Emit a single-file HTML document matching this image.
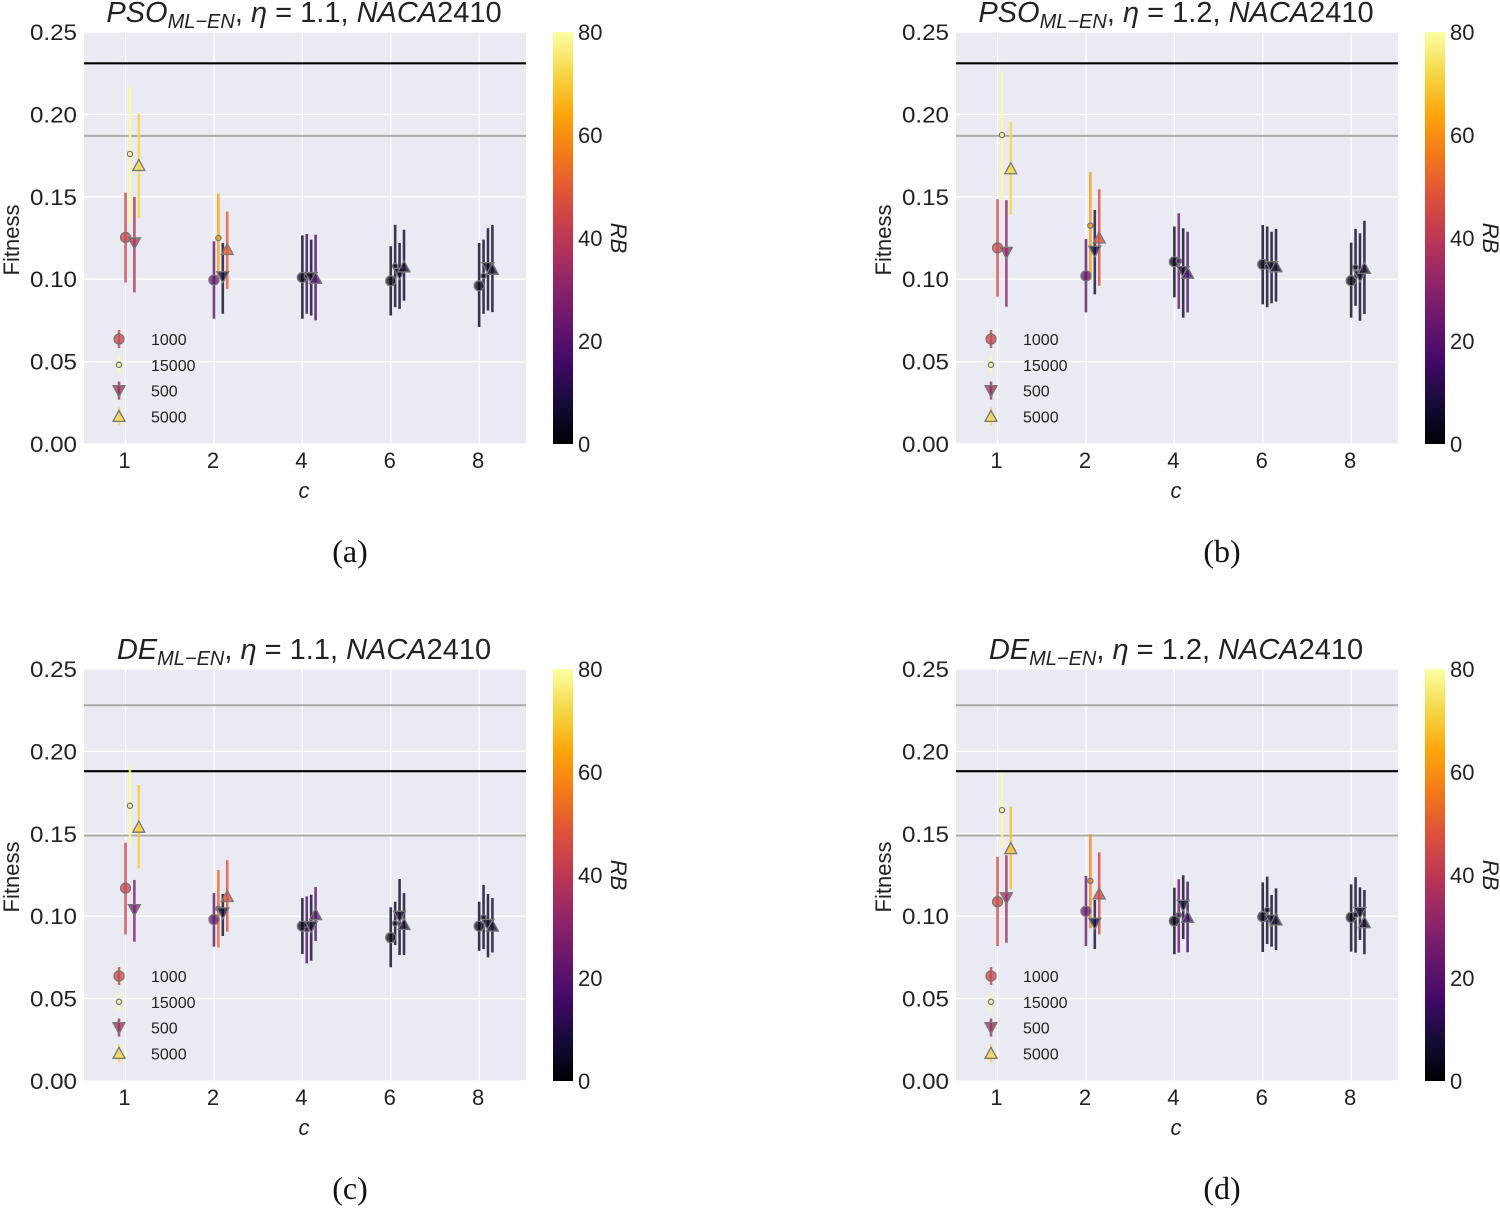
<!DOCTYPE html>
<html><head><meta charset="utf-8">
<style>
html,body{margin:0;padding:0;background:#fff;}
svg{display:block;font-family:"Liberation Sans",sans-serif;}
</style></head>
<body>
<svg id="fig" width="1500" height="1208" viewBox="0 0 1500 1208" xmlns="http://www.w3.org/2000/svg">
<defs>
<linearGradient id="inferno" x1="0" y1="1" x2="0" y2="0">
<stop offset="0" stop-color="#000004"/><stop offset="0.1" stop-color="#160b39"/>
<stop offset="0.2" stop-color="#420a68"/><stop offset="0.3" stop-color="#6a176e"/>
<stop offset="0.4" stop-color="#932667"/><stop offset="0.5" stop-color="#bc3754"/>
<stop offset="0.6" stop-color="#dd513a"/><stop offset="0.7" stop-color="#f37819"/>
<stop offset="0.8" stop-color="#fca50a"/><stop offset="0.9" stop-color="#f6d746"/>
<stop offset="1" stop-color="#fcffa4"/>
</linearGradient>
</defs>
</svg>
<script>
// ---- data ----
const categories = ["1","2","4","6","8"];
const seriesNames = ["1000","15000","500","5000"];
const yTicks = [0,0.05,0.10,0.15,0.20,0.25];
const yTickLabels = ["0.00","0.05","0.10","0.15","0.20","0.25"];
const cbTicks = [0,20,40,60,80];
const panelTitles = [["PSO","1.1"],["PSO","1.2"],["DE","1.1"],["DE","1.2"]];
const panelCaptions = ["(a)","(b)","(c)","(d)"];
// horizontal reference lines per panel: [value, color]
const refLinesA = [[0.231,"#000"],[0.187,"#aaa"]];
const refLinesB = [[0.231,"#000"],[0.187,"#aaa"]];
const refLinesC = [[0.228,"#aaa"],[0.188,"#000"],[0.149,"#aaa"]];
const refLinesD = [[0.228,"#aaa"],[0.188,"#000"],[0.149,"#aaa"]];
// Panel (a): per series [c=1,2,4,6,8]
const aMean = [[0.1254,0.0995,0.101,0.099,0.096],[0.176,0.125,0.102,0.108,0.102],[0.122,0.1015,0.101,0.1035,0.107],[0.169,0.118,0.1005,0.1075,0.106]];
const aLow  = [[0.098,0.076,0.076,0.078,0.071],[0.134,0.101,0.079,0.083,0.079],[0.092,0.079,0.078,0.082,0.081],[0.137,0.094,0.075,0.087,0.080]];
const aHigh = [[0.1525,0.123,0.1266,0.120,0.122],[0.217,0.152,0.1274,0.133,0.124],[0.150,0.122,0.124,0.122,0.131],[0.2007,0.141,0.127,0.130,0.133]];
const aRB   = [[44,22,3,3,3],[79,63,14,6,6],[38,7,5,5,5],[72,50,17,6,6]];
// Panel (b)
const bMean = [[0.119,0.102,0.1106,0.109,0.0991],[0.1875,0.1325,0.111,0.1076,0.1072],[0.1163,0.117,0.1046,0.1076,0.102],[0.167,0.125,0.1036,0.1076,0.1066]];
const bLow  = [[0.0894,0.0799,0.089,0.0847,0.0767],[0.149,0.0995,0.082,0.083,0.0839],[0.0833,0.0908,0.0767,0.0854,0.0748],[0.139,0.096,0.0799,0.0864,0.0789]];
const bHigh = [[0.1485,0.1244,0.132,0.1329,0.1222],[0.226,0.165,0.14,0.132,0.1305],[0.148,0.142,0.1309,0.1288,0.1278],[0.1956,0.1545,0.1288,0.1305,0.1355]];
const bRB   = [[45,22,3,3,3],[79,62,24,6,6],[32,8,5,5,5],[72,47,17,6,6]];
// Panel (c)
const cMean = [[0.117,0.098,0.094,0.087,0.094],[0.167,0.1046,0.092,0.0957,0.0993],[0.104,0.102,0.0937,0.100,0.095],[0.154,0.112,0.101,0.095,0.094]];
const cLow  = [[0.089,0.0815,0.077,0.069,0.079],[0.143,0.081,0.0714,0.0825,0.080],[0.0845,0.088,0.073,0.0765,0.075],[0.129,0.0906,0.085,0.0765,0.078]];
const cHigh = [[0.1446,0.114,0.111,0.1054,0.1088],[0.191,0.128,0.112,0.1088,0.119],[0.122,0.1135,0.113,0.1226,0.1135],[0.1796,0.134,0.1177,0.114,0.111]];
const cRB   = [[44,22,3,3,3],[79,52,18,6,6],[28,7,5,5,5],[70,48,20,6,6]];
// Panel (d)
const dMean = [[0.1088,0.103,0.0971,0.0997,0.0993],[0.1644,0.1214,0.1007,0.1038,0.1009],[0.1112,0.0957,0.1066,0.0977,0.1023],[0.141,0.1135,0.0993,0.0977,0.0961]];
const dLow  = [[0.0819,0.0819,0.0769,0.0783,0.0785],[0.1418,0.0926,0.0779,0.0831,0.0779],[0.0839,0.0801,0.0862,0.0815,0.0856],[0.1163,0.089,0.0781,0.0795,0.0769]];
const dHigh = [[0.136,0.1244,0.1173,0.1205,0.1193],[0.187,0.1497,0.1224,0.124,0.1236],[0.137,0.1098,0.1248,0.1129,0.1175],[0.1665,0.1388,0.121,0.1169,0.1159]];
const dRB   = [[45,24,3,3,3],[79,58,22,6,6],[35,8,5,5,5],[68,45,15,6,6]];

const panels = [
 {ox:0,oy:0,mean:aMean,low:aLow,high:aHigh,rb:aRB,lines:refLinesA},
 {ox:872,oy:0,mean:bMean,low:bLow,high:bHigh,rb:bRB,lines:refLinesB},
 {ox:0,oy:637,mean:cMean,low:cLow,high:cHigh,rb:cRB,lines:refLinesC},
 {ox:872,oy:637,mean:dMean,low:dLow,high:dHigh,rb:dRB,lines:refLinesD}
];

const NS="http://www.w3.org/2000/svg";
const svg=document.getElementById('fig');
function mk(tag,attrs,parent){const e=document.createElementNS(NS,tag);for(const k in attrs)e.setAttribute(k,attrs[k]);(parent||svg).appendChild(e);return e;}

const stops=[[0,0,0,4],[0.1,22,11,57],[0.2,66,10,104],[0.3,106,23,110],[0.4,147,38,103],[0.5,188,55,84],[0.6,221,81,58],[0.7,243,120,25],[0.8,252,165,10],[0.9,246,215,70],[1,252,255,164]];
function inferno(t){t=Math.max(0,Math.min(1,t));for(let i=1;i<stops.length;i++){if(t<=stops[i][0]){const a=stops[i-1],b=stops[i];const f=(t-a[0])/(b[0]-a[0]);return `rgb(${Math.round(a[1]+f*(b[1]-a[1]))},${Math.round(a[2]+f*(b[2]-a[2]))},${Math.round(a[3]+f*(b[3]-a[3]))})`;}}return "rgb(252,255,164)";}

const AX_L=84,AX_R=526,AX_T=32,AX_B=444;
function xScale(i,j){return AX_L+(i+0.47+j*0.05)*(AX_R-AX_L)/5;}
function yScale(v){return AX_B-(v/0.25)*(AX_B-AX_T);}

function marker(g,j,x,y,col){
  const common={fill:col,'fill-opacity':0.75,stroke:'#777','stroke-width':1.3};
  let m;
  if(j===0){m=mk('circle',Object.assign({cx:x,cy:y,r:5},common),g);}
  else if(j===1){m=mk('circle',Object.assign({cx:x,cy:y,r:2.6},common),g);}
  else if(j===2){m=mk('polygon',Object.assign({points:`${x-6},${y-5} ${x+6},${y-5} ${x},${y+6}`},common),g);}
  else {m=mk('polygon',Object.assign({points:`${x-6},${y+5} ${x+6},${y+5} ${x},${y-6}`},common),g);}
  return m;
}

panels.forEach((p,pi)=>{
  const g=mk('g',{transform:`translate(${p.ox},${p.oy})`});
  
  
  const bg=mk('rect',{x:AX_L,y:AX_T,width:AX_R-AX_L,height:AX_B-AX_T,fill:'#eaeaf2'},g);
  
  
  yTicks.forEach((t,k)=>{
    const gl=mk('line',{x1:AX_L,x2:AX_R,y1:yScale(t),y2:yScale(t),stroke:'#fff','stroke-width':1.3},g);
    
    
    const tl=mk('text',{x:AX_L-7,y:yScale(t)+8,'text-anchor':'end','font-size':22,fill:'#222',textLength:47,lengthAdjust:'spacingAndGlyphs'},g);
    tl.textContent=yTickLabels[k];
    
    
  });
  categories.forEach((c,i)=>{
    const x=xScale(i,0);
    const gl=mk('line',{x1:x,x2:x,y1:AX_T,y2:AX_B,stroke:'#fff','stroke-width':1.3},g);
    
    
    const tl=mk('text',{x:x-1,y:AX_B+24,'text-anchor':'middle','font-size':22,fill:'#222'},g);
    tl.textContent=c;
    
    
  });
  p.lines.forEach(l=>{
    const rl=mk('line',{x1:AX_L,x2:AX_R,y1:yScale(l[0]),y2:yScale(l[0]),stroke:l[1],'stroke-width':l[1]==='#000'?2.2:2},g);
    
    
  });
  for(let j=0;j<4;j++){
    for(let i=0;i<5;i++){
      const x=xScale(i,j);
      const col=inferno(p.rb[j][i]/80);
      const eb=mk('line',{x1:x,x2:x,y1:yScale(p.low[j][i]),y2:yScale(p.high[j][i]),stroke:col,'stroke-width':2.6,'stroke-opacity':0.8},g);
      
      
    }
  }
  for(let j=0;j<4;j++){
    for(let i=0;i<5;i++){
      const col=inferno(p.rb[j][i]/80);
      const m=marker(g,j,xScale(i,j),yScale(p.mean[j][i]),col);
      
      
    }
  }
  const legCols=[inferno(44/80),inferno(79/80),inferno(35/80),inferno(72/80)];
  seriesNames.forEach((s,j)=>{
    const y=339+j*25.8;
    const lg=mk('g',{},g);
    
    
    mk('line',{x1:119,x2:119,y1:y-9,y2:y+9,stroke:legCols[j],'stroke-width':2.6,'stroke-opacity':0.8},lg);
    marker(lg,j,119,y,legCols[j]);
    const t=mk('text',{x:151,y:y+6,'font-size':16,fill:'#222'},lg);
    t.textContent=s;
  });
  const yl=mk('text',{x:0,y:0,transform:'translate(19,240) rotate(-90)','text-anchor':'middle','font-size':22,fill:'#222'},g);
  yl.textContent='Fitness';
  
  
  const xl=mk('text',{x:304,y:498,'text-anchor':'middle','font-size':22,'font-style':'italic',fill:'#222'},g);
  xl.textContent='c';
  
  
  const tt=mk('text',{x:304,y:22,'text-anchor':'middle','font-size':29,fill:'#222'},g);
  
  
  const pt=panelTitles[pi];
  tt.innerHTML=`<tspan font-style="italic">${pt[0]}</tspan><tspan font-style="italic" font-size="20" dy="6">ML−EN</tspan><tspan dy="-6">, </tspan><tspan font-style="italic">η</tspan><tspan> =  ${pt[1]}, </tspan><tspan font-style="italic">NACA</tspan><tspan>2410</tspan>`;
  const cb=mk('rect',{x:553,y:AX_T,width:20,height:AX_B-AX_T,fill:'url(#inferno)'},g);
  
  
  cbTicks.forEach(t=>{
    const y=AX_B-(t/80)*(AX_B-AX_T);
    const tl=mk('text',{x:578,y:y+8,'font-size':22,fill:'#222'},g);
    tl.textContent=String(t);
    
    
  });
  const rb=mk('text',{x:0,y:0,transform:'translate(611,238) rotate(90)','text-anchor':'middle','font-size':22,'font-style':'italic',fill:'#222'},g);
  rb.textContent='RB';
  
  
  const cap=mk('text',{x:350,y:562,'text-anchor':'middle','font-size':32,'font-family':'"Liberation Serif",serif',fill:'#111'},g);
  cap.textContent=panelCaptions[pi];
  
  
});
</script>
</body></html>
